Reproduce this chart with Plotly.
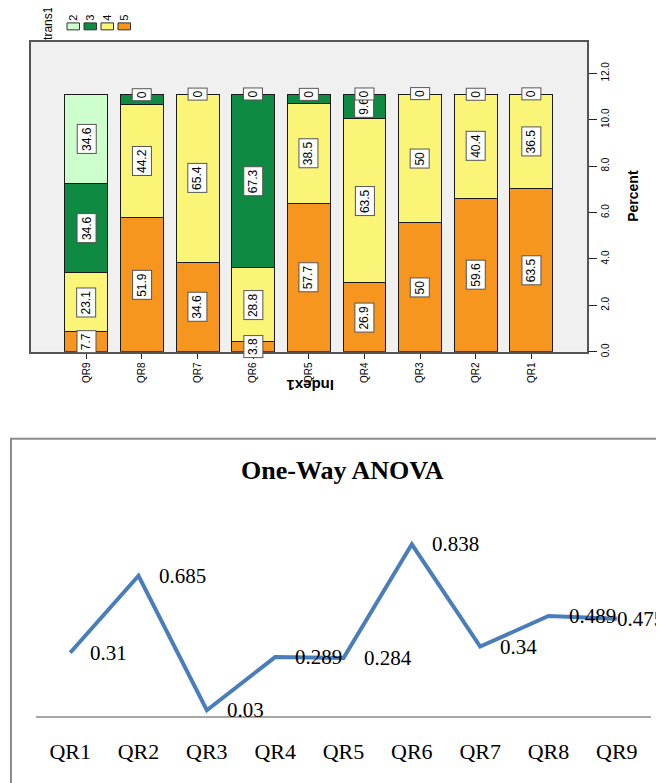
import plotly.graph_objects as go

# The page body has an 8px margin, so the figure is drawn 8px in from the
# window's top-left corner; the figure is sized to fill the rest of the window.
WIN_W, WIN_H = 664, 783
OFF = 8
W, H = WIN_W - OFF, WIN_H - OFF

# ---------------- data ----------------
# Top chart: percent of each response level (trans1) within each question
bar_categories = ["QR9", "QR8", "QR7", "QR6", "QR5", "QR4", "QR3", "QR2", "QR1"]
trans_levels = ["5", "4", "3", "2"]            # stacked bottom -> top
pct_level5 = [7.7, 51.9, 34.6, 3.8, 57.7, 26.9, 50, 59.6, 63.5]
pct_level4 = [23.1, 44.2, 65.4, 28.8, 38.5, 63.5, 50, 40.4, 36.5]
pct_level3 = [34.6, 3.8, 0, 67.3, 3.8, 9.6, 0, 0, 0]
pct_level2 = [34.6, 0, 0, 0, 0, 0, 0, 0, 0]
percent_tickvals = [0, 2, 4, 6, 8, 10, 12]
percent_ticktext = ["0.0", "2.0", "4.0", "6.0", "8.0", "10.0", "12.0"]
legend_levels = ["2", "3", "4", "5"]

# Bottom chart: One-Way ANOVA p-values
questions = ["QR1", "QR2", "QR3", "QR4", "QR5", "QR6", "QR7", "QR8", "QR9"]
anova_p = [0.31, 0.685, 0.03, 0.289, 0.284, 0.838, 0.34, 0.489, 0.475]

# ---------------- styles ----------------
level_colors = {"5": "#F7961E", "4": "#FAF577", "3": "#0E8A43", "2": "#CCFFCC"}
NARROW = "Liberation Sans Narrow, Arial Narrow, Liberation Sans, sans-serif"
SANS = "Liberation Sans, Arial, sans-serif"
SERIF = "Liberation Serif, Times New Roman, serif"
label_xshift = [18, 18, 18, 18, 18, 18, 18, 18, -2]


def px_x(x):
    """window pixel x -> paper fraction"""
    return (x - OFF) / W


def px_y(y):
    """window pixel y -> paper fraction"""
    return 1 - (y - OFF) / H


def paper_text(x, y, text, font, angle=0):
    return dict(x=px_x(x), y=px_y(y), xref="paper", yref="paper", text=text,
                showarrow=False, textangle=angle, xanchor="center",
                yanchor="middle", font=font)


series = {"5": pct_level5, "4": pct_level4, "3": pct_level3, "2": pct_level2}
share = 100.0 / len(bar_categories)   # each question is an equal share of all cases

fig = go.Figure()

for lvl in trans_levels:
    vals = [v * share / 100.0 for v in series[lvl]]
    fig.add_trace(go.Bar(
        x=bar_categories, y=vals, name=lvl, width=0.77,
        marker=dict(color=level_colors[lvl], line=dict(color="#1a1a1a", width=1)),
        xaxis="x", yaxis="y", showlegend=False, hoverinfo="skip",
    ))

annotations = []
box_font = dict(family=NARROW, size=12, color="black")
# value boxes on the stacked bars
for i, cat in enumerate(bar_categories):
    cum = 0.0
    seg = [(lvl, series[lvl][i]) for lvl in trans_levels]
    top_zero = series["2"][i] == 0
    nonzero = [k for k, (_, v) in enumerate(seg) if v > 0]
    topmost = nonzero[-1] if nonzero else -1
    for k, (lvl, v) in enumerate(seg):
        h = v * share / 100.0
        if v > 0:
            hide = top_zero and k == topmost and v < 5
            if not hide:
                annotations.append(dict(
                    x=cat, y=cum + h / 2, xref="x", yref="y", text="%g" % v,
                    showarrow=False, textangle=-90, font=box_font,
                    xanchor="center", yanchor="middle",
                    bgcolor="white", bordercolor="#555", borderwidth=1, borderpad=2,
                ))
        cum += h
    if top_zero:
        annotations.append(dict(
            x=cat, y=cum, xref="x", yref="y", text="0",
            showarrow=False, textangle=-90, font=box_font,
            xanchor="center", yanchor="middle",
            bgcolor="white", bordercolor="#555", borderwidth=1, borderpad=2,
        ))

# axis titles of top chart
annotations.append(paper_text(633, 197, "<b>Percent</b>",
                              dict(family=NARROW, size=14, color="black"), -90))
annotations.append(paper_text(310, 388, "<b>Index1</b>",
                              dict(family=SANS, size=15, color="black"), 180))

# legend (rotated like the chart)
annotations.append(paper_text(48, 23, "trans1",
                              dict(family=NARROW, size=12, color="black"), -90))
shapes = []
sw_x0 = [67, 84, 101, 118]
for j, lvl in enumerate(legend_levels):
    x0 = sw_x0[j]
    shapes.append(dict(type="rect", xref="paper", yref="paper",
                       x0=px_x(x0), x1=px_x(x0 + 12.5), y0=px_y(30), y1=px_y(23),
                       fillcolor=level_colors[lvl], line=dict(color="#333", width=1)))
    annotations.append(paper_text(x0 + 6.25, 17.5, lvl,
                                  dict(family=NARROW, size=11, color="black"), -90))

# ---------------- bottom chart ----------------
fig.add_trace(go.Scatter(
    x=questions, y=anova_p, mode="lines",
    line=dict(color="#4A7EBB", width=4),
    xaxis="x2", yaxis="y2", showlegend=False, hoverinfo="skip",
))
for q, p, dx in zip(questions, anova_p, label_xshift):
    annotations.append(dict(
        x=q, y=p, xref="x2", yref="y2", text=str(p), showarrow=False,
        xanchor="left", yanchor="middle", xshift=dx,
        font=dict(family=SERIF, size=21, color="black"),
    ))
annotations.append(paper_text(343, 474, "<b>One-Way ANOVA</b>",
                              dict(family=SERIF, size=26, color="black")))
shapes.append(dict(type="rect", xref="paper", yref="paper",
                   x0=px_x(11), x1=1.05, y0=-0.05, y1=px_y(441.5),
                   line=dict(color="#8C8C8C", width=2), fillcolor="rgba(0,0,0,0)"))
# white background for the bottom plotting area
shapes.append(dict(type="rect", xref="paper", yref="paper", layer="below",
                   x0=px_x(36), x1=px_x(651), y0=px_y(721), y1=px_y(514.3),
                   fillcolor="white", line=dict(width=0)))

unit_top = 46.7 / 2.0   # pixels per percent unit in the top chart
fig.update_layout(
    width=W, height=H,
    margin=dict(l=0, r=0, t=0, b=0),
    paper_bgcolor="white",
    plot_bgcolor="#F0F0F0",
    barmode="stack",
    xaxis=dict(domain=[px_x(30.7), px_x(587)], anchor="y",
               type="category", categoryorder="array", categoryarray=bar_categories,
               range=[-1, 9], showline=True, linecolor="#555", linewidth=1.5,
               mirror=True, ticks="outside", ticklen=5, tickcolor="#222",
               tickangle=-90, tickfont=dict(family=NARROW, size=10, color="black"),
               showgrid=False, zeroline=False, fixedrange=True),
    yaxis=dict(domain=[px_y(354), px_y(42)], anchor="x", side="right",
               range=[0, 312 / unit_top], tickvals=percent_tickvals,
               ticktext=percent_ticktext, tickangle=-90,
               tickfont=dict(family=NARROW, size=10, color="black"),
               showline=True, linecolor="#555", linewidth=1.5, mirror=True,
               ticks="outside", ticklen=8, tickcolor="#222",
               showgrid=False, zeroline=False, fixedrange=True),
    xaxis2=dict(domain=[px_x(36), px_x(651)], anchor="y2",
                type="category", categoryorder="array", categoryarray=questions,
                range=[-0.5, 8.5], showline=True, linecolor="#A6A6A6", linewidth=1.5,
                ticks="", ticklabelstandoff=14,
                tickfont=dict(family=SERIF, size=22, color="black"),
                showgrid=False, zeroline=False, fixedrange=True),
    yaxis2=dict(domain=[px_y(721), px_y(514.3)], anchor="x2", range=[0, 1],
                visible=False, fixedrange=True),
    annotations=annotations,
    shapes=shapes,
)

fig.write_html("out.html")
